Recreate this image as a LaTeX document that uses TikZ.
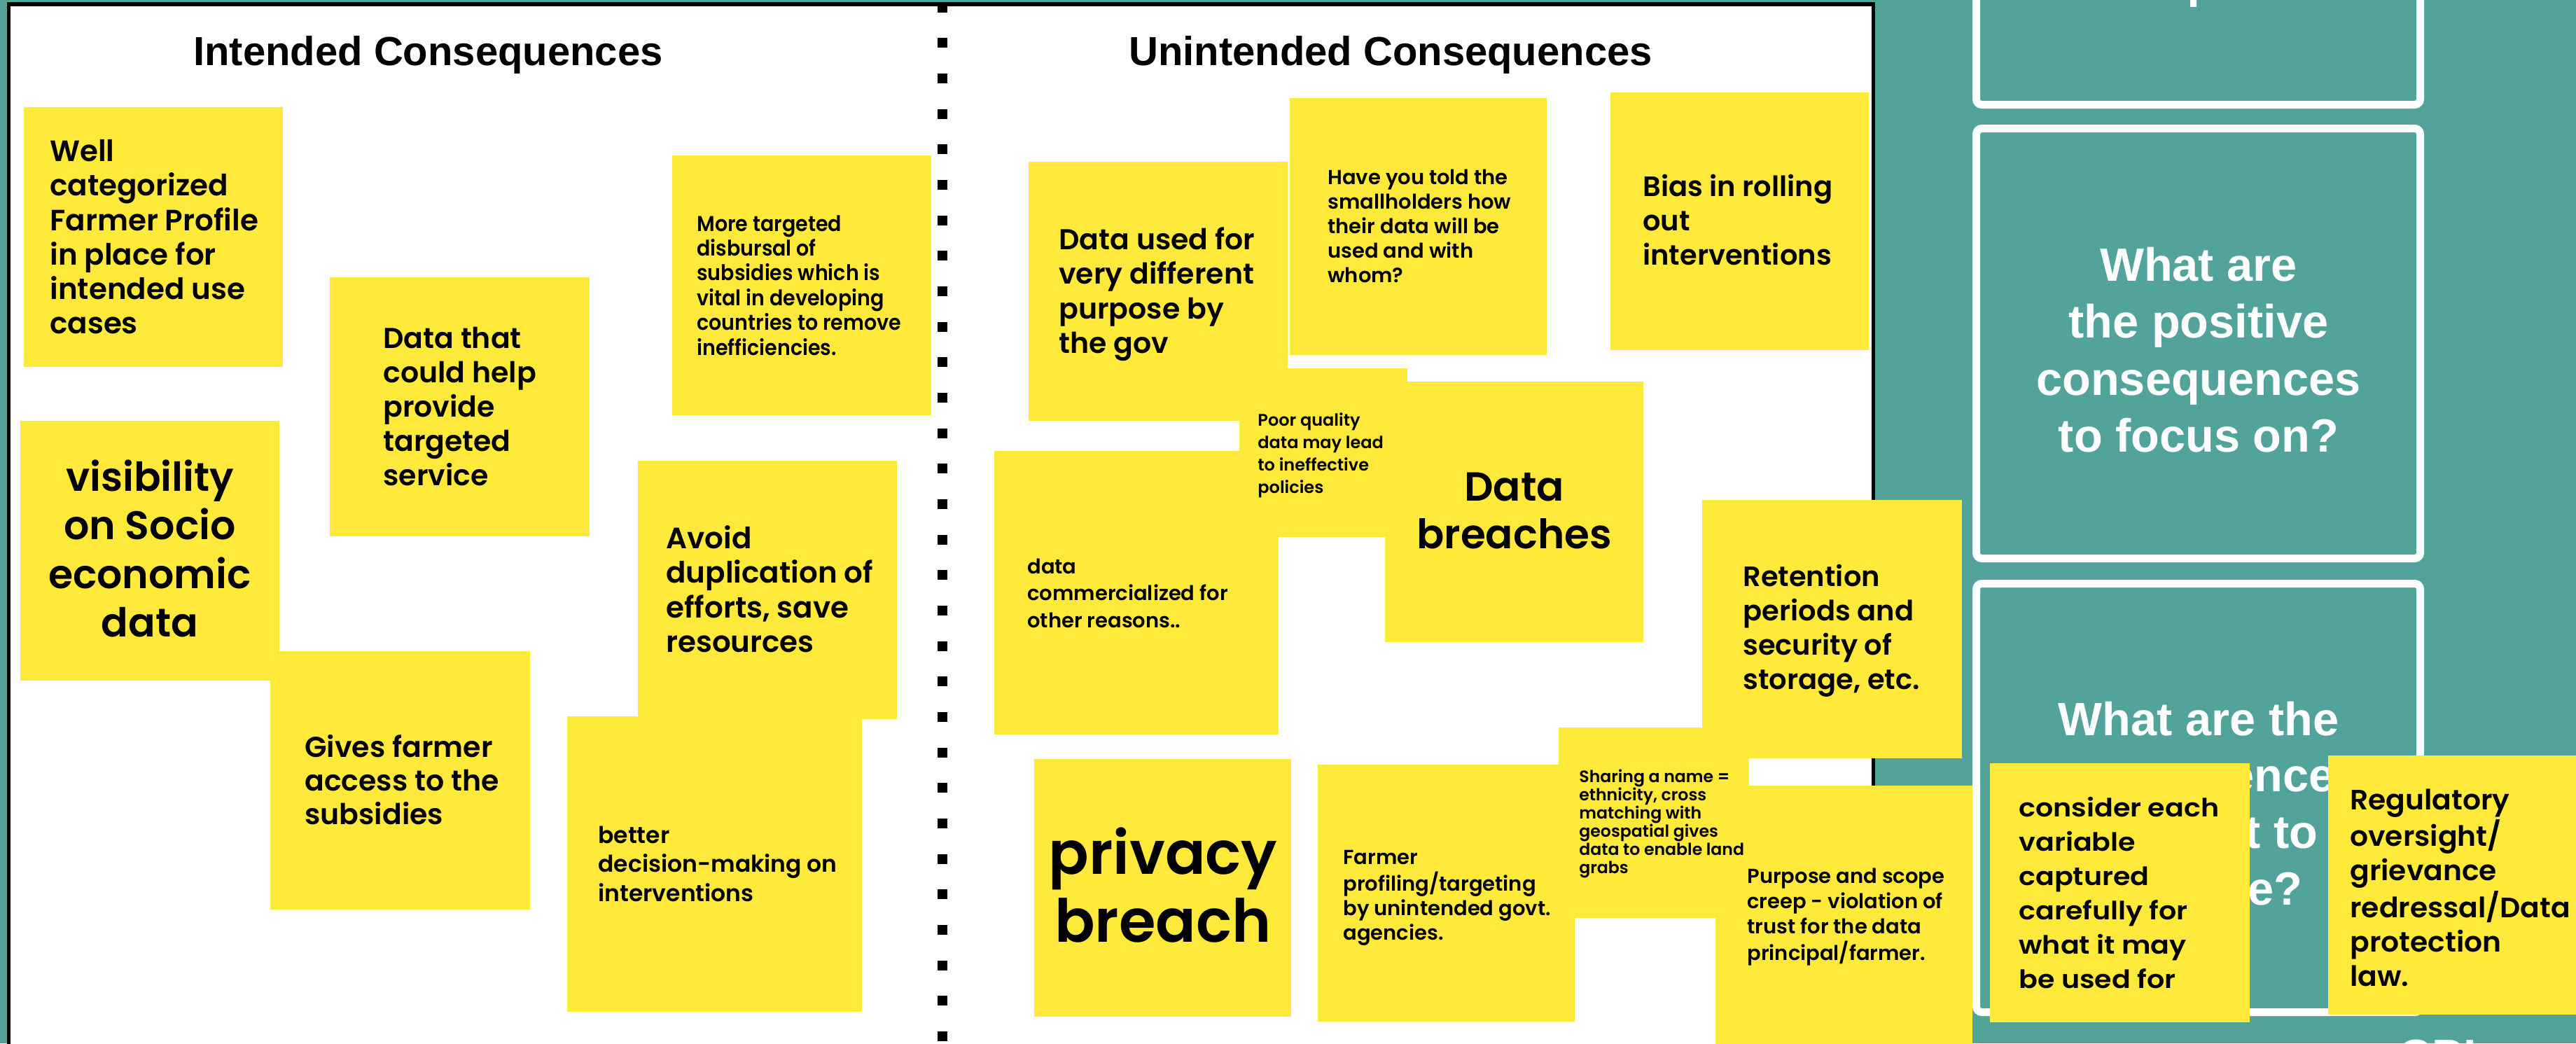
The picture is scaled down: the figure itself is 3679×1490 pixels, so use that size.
\documentclass[tikz,border=0pt]{standalone}
\usepackage{fontspec}
\setmainfont{Liberation Sans}
\newfontfamily\headfont{Liberation Sans}
\newfontfamily\stickyfont{Poppins SemiBold}
\newfontfamily\stickywide{Poppins SemiBold}[FakeStretch=1.1]
\newfontfamily\stickyslight{Poppins SemiBold}[FakeStretch=1.02]
\newfontfamily\stickynarrow{Poppins SemiBold}[FakeStretch=0.93]

\definecolor{boardteal}{RGB}{82,163,154}
\definecolor{stickyyellow}{RGB}{255,233,59}

\newcommand\stklines[1]{\begin{tabular}[t]{@{}l@{}}#1\end{tabular}}
\newcommand\stkcentre[1]{\begin{tabular}[t]{@{}c@{}}#1\end{tabular}}

\tikzset{
  stickybox/.style={fill=stickyyellow},
  stickytext/.style={inner sep=0pt, anchor=base west, text=black},
  stickymid/.style={inner sep=0pt, anchor=base, text=black},
  outlinebox/.style={draw=white, line width=5.5pt, rounded corners=4pt},
  titletext/.style={inner sep=0pt, anchor=base, text=black,
    font=\headfont\bfseries\fontsize{29}{34}\selectfont},
  boardtext/.style={inner sep=0pt, anchor=base, text=white,
    font=\headfont\bfseries\fontsize{33.35}{40.75}\selectfont},
}

\begin{document}
\begin{tikzpicture}[x=0.5pt,y=-0.5pt]
\useasboundingbox (0,0) rectangle (3679,1490);
\clip (0,0) rectangle (3679,1490);

% background
\fill[boardteal] (0,0) rectangle (3679,1490);

% white board with black frame
\draw[line width=2.75pt, fill=white] (12.5,6) rectangle (2675.5,1530);

% dotted divider between the two columns
\foreach \k in {0,...,29}
  \fill[black] (1338.5,{3.8+50.66*\k}) rectangle ++(14,14);
\draw[line width=2.75pt] (12.5,6) -- (2675.5,6);

% column headings
\node[titletext] (intended) at (611.5,93.3) {Intended Consequences};
\node[titletext] (unintended) at (1986,93.3) {Unintended Consequences};

% question frames on the teal side
\draw[outlinebox] (2822.5,-60) rectangle (3456.5,149.5);
\draw[outlinebox] (2822.5,183.5) rectangle (3456.5,797.5);
\draw[outlinebox] (2822.5,833.5) rectangle (3456.5,1445.5);

\node[boardtext] (qtop) at (3140,-4) {consequences};
\node[boardtext] (qpos) at (3140,401) {\stkcentre{What are\\the positive\\consequences\\to focus on?}};
\node[boardtext, font=\headfont\bfseries\fontsize{33.35}{40.35}\selectfont] (qneg) at (3140,1050)
  {\stkcentre{What are the\\consequences\\we want to\\mitigate?}};
\node[boardtext, anchor=base west] (cpi) at (3425,1531) {CPI};

% sticky notes
\fill[stickybox] (34,153) rectangle (404,524);
\fill[stickybox] (471,396) rectangle (842,766);
\fill[stickybox] (960,222) rectangle (1330,593);
\fill[stickybox] (29,601) rectangle (399,972);
\fill[stickybox] (911,658) rectangle (1281,1027);
\fill[stickybox] (386,930) rectangle (757,1299);
\fill[stickybox] (810,1023) rectangle (1231,1445);

\fill[stickybox] (1469,231) rectangle (1839,601);
\fill[stickybox] (1842,140) rectangle (2209,507);
\fill[stickybox] (2300,132) rectangle (2669,500);
\fill[stickybox] (1420,644) rectangle (1826,1049);
\fill[stickybox] (1770,526) rectangle (2010,767);
\fill[stickybox] (1978,545) rectangle (2347,917);
\fill[stickybox] (2431,714) rectangle (2802,1083);
\fill[stickybox] (1477,1084) rectangle (1844,1452);
\fill[stickybox] (1882,1092) rectangle (2249,1459);
\fill[stickybox] (2450,1122) rectangle (2817,1500);
\fill[stickybox] (2226,1039) rectangle (2498,1311);
\fill[stickybox] (2842,1090) rectangle (3213,1460);
\fill[stickybox] (3325,1079) rectangle (3700,1449);

% sticky note texts, intended side
\node[stickytext, font=\stickyfont\fontsize{21}{24.6}\selectfont] (n1) at (71,230.6)
  {\stklines{Well\\categorized\\Farmer Profile\\in place for\\intended use\\cases}};
\node[stickytext, font=\stickyfont\fontsize{20.5}{24.5}\selectfont] (n2) at (547,497.6)
  {\stklines{Data that\\could help\\provide\\targeted\\service}};
\node[stickytext, font=\stickynarrow\fontsize{15.35}{17.7}\selectfont] (n3) at (995,330)
  {\stklines{More targeted\\disbursal of\\subsidies which is\\vital in developing\\countries to remove\\inefficiencies.}};
\node[stickymid, font=\stickyfont\fontsize{28.5}{34.75}\selectfont] (n4) at (214,701)
  {\stkcentre{visibility\\on Socio\\economic\\data}};
\node[stickytext, font=\stickyfont\fontsize{21}{24.75}\selectfont] (n5) at (951,783)
  {\stklines{Avoid\\duplication of\\efforts, save\\resources}};
\node[stickytext, font=\stickyfont\fontsize{20.5}{24}\selectfont] (n6) at (435,1081)
  {\stklines{Gives farmer\\access to the\\subsidies}};
\node[stickytext, font=\stickyfont\fontsize{16.5}{20.8}\selectfont] (n7) at (854,1204)
  {\stklines{better\\decision-making on\\interventions}};

% sticky note texts, unintended side
\node[stickytext, font=\stickyfont\fontsize{20.5}{24.7}\selectfont] (u1) at (1512,356.5)
  {\stklines{Data used for\\very different\\purpose by\\the gov}};
\node[stickytext, font=\stickyfont\fontsize{14.5}{17.5}\selectfont] (u2) at (1896,263)
  {\stklines{Have you told the\\smallholders how\\their data will be\\used and with\\whom?}};
\node[stickytext, font=\stickyfont\fontsize{20}{24.5}\selectfont] (u3) at (2346,280)
  {\stklines{Bias in rolling\\out\\interventions}};
\node[stickytext, font=\stickyfont\fontsize{12}{15.9}\selectfont] (u4) at (1796,608.6)
  {\stklines{Poor quality\\data may lead\\to ineffective\\policies}};
\node[stickytext, font=\stickyfont\fontsize{14.5}{19.25}\selectfont] (u5) at (1467,819.4)
  {\stklines{data\\commercialized for\\other reasons..}};
\node[stickymid, font=\stickyfont\fontsize{29}{34}\selectfont] (u6) at (2162.5,715.3)
  {\stkcentre{Data\\breaches}};
\node[stickytext, font=\stickyfont\fontsize{20}{24.6}\selectfont] (u7) at (2489,837)
  {\stklines{Retention\\periods and\\security of\\storage, etc.}};
\node[stickymid, font=\stickyfont\fontsize{42.5}{48.5}\selectfont] (u8) at (1661,1248)
  {\stkcentre{privacy\\breach}};
\node[stickytext, font=\stickyfont\fontsize{14.5}{17.65}\selectfont] (u9) at (1918,1234)
  {\stklines{Farmer\\profiling/targeting\\by unintended govt.\\agencies.}};
\node[stickytext, font=\stickyfont\fontsize{11.8}{13}\selectfont] (u10) at (2255,1117)
  {\stklines{Sharing a name =\\ethnicity, cross\\matching with\\geospatial gives\\data to enable land\\grabs}};
\node[stickytext, font=\stickyfont\fontsize{14.5}{17.85}\selectfont] (u11) at (2495,1261.7)
  {\stklines{Purpose and scope\\creep - violation of\\trust for the data\\principal/farmer.}};

% sticky note texts on the teal side
\node[stickytext, font=\stickywide\fontsize{18}{24.5}\selectfont] (m1) at (2883,1166.7)
  {\stklines{consider each\\variable\\captured\\carefully for\\what it may\\be used for}};
\node[stickytext, font=\stickyslight\fontsize{20}{24.5}\selectfont] (m2) at (3356,1156)
  {\stklines{Regulatory\\oversight/\\grievance\\redressal/Data\\protection\\law.}};
\end{tikzpicture}
\end{document}
